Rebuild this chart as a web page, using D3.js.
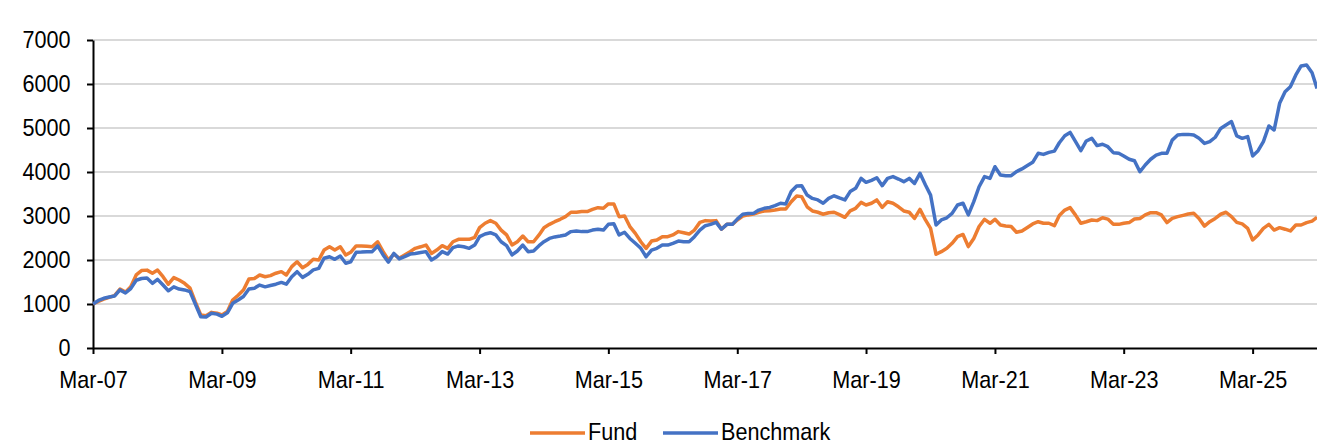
<!DOCTYPE html>
<html>
<head>
<meta charset="utf-8">
<script src="https://cdn.jsdelivr.net/npm/d3@7"></script>
<style>
  html, body { margin: 0; padding: 0; background: #fff; }
  svg { display: block; }
  .axis text { font-family: "Liberation Sans", Arial, sans-serif; font-size: 24px; fill: #000; }
  .legend text { font-family: "Liberation Sans", Arial, sans-serif; font-size: 24px; fill: #000; }
</style>
</head>
<body>
<div id="chart"></div>
<script>
// first month of the series, one value per month after that
var startMonth = "2007-03";

var fund = [
  1000, 1060, 1110, 1150, 1190, 1340, 1270, 1390, 1660, 1760,
  1770, 1700, 1770, 1620, 1450, 1600, 1545, 1470, 1360, 1050,
  750, 735, 810, 790, 750, 830, 1090, 1200, 1320, 1570,
  1580, 1660, 1620, 1645, 1700, 1735, 1660, 1850, 1960, 1825,
  1900, 2015, 2000, 2225, 2300, 2225, 2300, 2115, 2175, 2320,
  2320, 2310, 2300, 2415, 2190, 2000, 2135, 2040, 2115, 2190,
  2265, 2300, 2340, 2150, 2225, 2325, 2265, 2415, 2470, 2470,
  2470, 2515, 2735, 2835, 2895, 2835, 2680, 2570, 2340, 2415,
  2545, 2415, 2415, 2570, 2735, 2810, 2870, 2925, 2985, 3085,
  3085, 3100, 3100, 3150, 3190, 3175, 3275, 3275, 2985, 3000,
  2760, 2605, 2415, 2265, 2430, 2455, 2530, 2530, 2570, 2645,
  2620, 2590, 2680, 2855, 2895, 2885, 2895, 2700, 2810, 2810,
  2910, 3000, 3025, 3045, 3085, 3115, 3120, 3135, 3160, 3160,
  3325, 3455, 3440, 3210, 3115, 3085, 3040, 3075, 3085, 3030,
  2970, 3115, 3175, 3310, 3250, 3290, 3365, 3195, 3325, 3290,
  3210, 3115, 3085, 2945, 3150, 2910, 2720, 2130, 2190, 2265,
  2380, 2530, 2580, 2305, 2490, 2760, 2925, 2835, 2925, 2795,
  2775, 2760, 2630, 2660, 2740, 2820, 2870, 2835, 2835, 2780,
  3010, 3135, 3190, 3020, 2835, 2870, 2910, 2895, 2960, 2930,
  2810, 2810, 2835, 2850, 2930, 2945, 3025, 3075, 3075, 3025,
  2850, 2945, 2985, 3015, 3045, 3060, 2945, 2770, 2870, 2945,
  3040, 3085, 2985, 2855, 2820, 2720, 2455, 2570, 2720, 2810,
  2680, 2735, 2700, 2660, 2795, 2795, 2850, 2885, 2970
];

var benchmark = [
  1000, 1080, 1130, 1160, 1180, 1320, 1250, 1350, 1540, 1580,
  1590, 1470, 1560, 1430, 1300, 1390, 1340, 1320, 1280, 1000,
  710, 705, 790, 770, 720, 800, 1015, 1090, 1170, 1340,
  1360, 1430, 1390, 1420, 1450, 1490, 1450, 1620, 1735, 1605,
  1675, 1775, 1810, 2040, 2075, 2015, 2090, 1925, 1960, 2175,
  2180, 2190, 2190, 2320, 2115, 1950, 2150, 2025, 2075, 2135,
  2150, 2170, 2190, 2000, 2075, 2190, 2135, 2280, 2320, 2300,
  2265, 2340, 2530, 2590, 2620, 2570, 2415, 2325, 2115, 2205,
  2340, 2190, 2205, 2325, 2415, 2490, 2525, 2545, 2570, 2645,
  2660, 2645, 2645, 2680, 2700, 2680, 2810, 2825, 2570, 2630,
  2490, 2380, 2265, 2075, 2225, 2265, 2340, 2340, 2380, 2430,
  2415, 2415, 2530, 2680, 2780, 2810, 2855, 2700, 2810, 2810,
  2930, 3040, 3055, 3060, 3135, 3175, 3195, 3235, 3290, 3275,
  3555, 3680, 3690, 3475, 3400, 3365, 3290, 3400, 3460, 3410,
  3365, 3555, 3630, 3855, 3765, 3810, 3870, 3690, 3855, 3895,
  3840, 3780, 3855, 3740, 3970, 3705, 3475, 2795, 2910, 2960,
  3060, 3250, 3290, 3025, 3325, 3665, 3895, 3855, 4120, 3930,
  3915, 3915, 4010, 4070, 4145, 4220, 4425, 4400, 4445, 4475,
  4665, 4825, 4900, 4690, 4485, 4705, 4765, 4600, 4630, 4575,
  4440, 4425, 4365, 4290, 4255, 4005, 4160, 4290, 4385, 4425,
  4425, 4725, 4840, 4855, 4855, 4840, 4765, 4650, 4690, 4790,
  4990, 5070, 5145, 4820, 4765, 4805, 4365, 4485, 4690, 5045,
  4955, 5560, 5825, 5940, 6205, 6410, 6430, 6255, 5900
];

var seriesNames = ["Fund", "Benchmark"];
var seriesColors = ["#ED7D31", "#4472C4"];

var yTicks = [0, 1000, 2000, 3000, 4000, 5000, 6000, 7000];
var xTickLabels = ["Mar-07", "Mar-09", "Mar-11", "Mar-13", "Mar-15",
                   "Mar-17", "Mar-19", "Mar-21", "Mar-23", "Mar-25"];
var axisEnd = "2026-03";

var W = 1317, H = 444;
var plotLeft = 93, plotRight = 1317, plotTop = 40, plotBottom = 348;
var squeeze = 0.9; // the labels are a little narrower than plain Arial

var parseMonth = d3.timeParse("%Y-%m");
var parseTick = d3.timeParse("%b-%y");
var start = parseMonth(startMonth);
var dates = fund.map(function(d, i) { return d3.timeMonth.offset(start, i); });

var svg = d3.select("#chart").append("svg")
  .attr("width", W)
  .attr("height", H);

var x = d3.scaleTime()
  .domain([start, parseMonth(axisEnd)])
  .range([plotLeft, plotRight]);

var y = d3.scaleLinear()
  .domain([0, 7000])
  .range([plotBottom, plotTop]);

// gridlines
svg.append("g")
  .selectAll("line")
  .data(yTicks.filter(function(d) { return d > 0; }))
  .enter().append("line")
    .attr("x1", plotLeft)
    .attr("x2", plotRight)
    .attr("y1", function(d) { return y(d); })
    .attr("y2", function(d) { return y(d); })
    .attr("stroke", "#d9d9d9")
    .attr("stroke-width", 2);

// y axis
var yAxis = svg.append("g")
  .attr("class", "axis")
  .attr("transform", "translate(" + plotLeft + ",0)")
  .call(d3.axisLeft(y).tickValues(yTicks).tickSizeInner(6).tickSizeOuter(0)
    .tickPadding(19).tickFormat(d3.format("d")));
yAxis.select(".domain").attr("stroke", "#000").attr("stroke-width", 2);
yAxis.selectAll(".tick line").attr("stroke", "#000").attr("stroke-width", 2);
yAxis.selectAll(".tick text").attr("transform", "scale(" + squeeze + ",1)");

// x axis
var xAxis = svg.append("g")
  .attr("class", "axis")
  .attr("transform", "translate(0," + plotBottom + ")")
  .call(d3.axisBottom(x)
    .tickValues(xTickLabels.map(function(s) { return parseTick(s); }))
    .tickFormat(function(d, i) { return xTickLabels[i]; })
    .tickSizeInner(6)
    .tickSizeOuter(0)
    .tickPadding(17));
xAxis.select(".domain").attr("stroke", "#000").attr("stroke-width", 2);
xAxis.selectAll(".tick line").attr("stroke", "#000").attr("stroke-width", 2);
xAxis.selectAll(".tick text").attr("transform", "scale(" + squeeze + ",1)");

// series lines
var line = d3.line()
  .x(function(d, i) { return x(dates[i]); })
  .y(function(d) { return y(d); });

[fund, benchmark].forEach(function(values, k) {
  svg.append("path")
    .datum(values)
    .attr("fill", "none")
    .attr("stroke", seriesColors[k])
    .attr("stroke-width", 3.5)
    .attr("stroke-linejoin", "round")
    .attr("d", line);
});

// legend
var legendX = [530, 663];
var legend = svg.append("g").attr("class", "legend");
seriesNames.forEach(function(name, k) {
  legend.append("line")
    .attr("x1", legendX[k])
    .attr("x2", legendX[k] + 55)
    .attr("y1", 433)
    .attr("y2", 433)
    .attr("stroke", seriesColors[k])
    .attr("stroke-width", 3.5);
  legend.append("text")
    .attr("transform", "translate(" + (legendX[k] + 58) + ",440) scale(" + squeeze + ",1)")
    .text(name);
});
</script>
</body>
</html>
